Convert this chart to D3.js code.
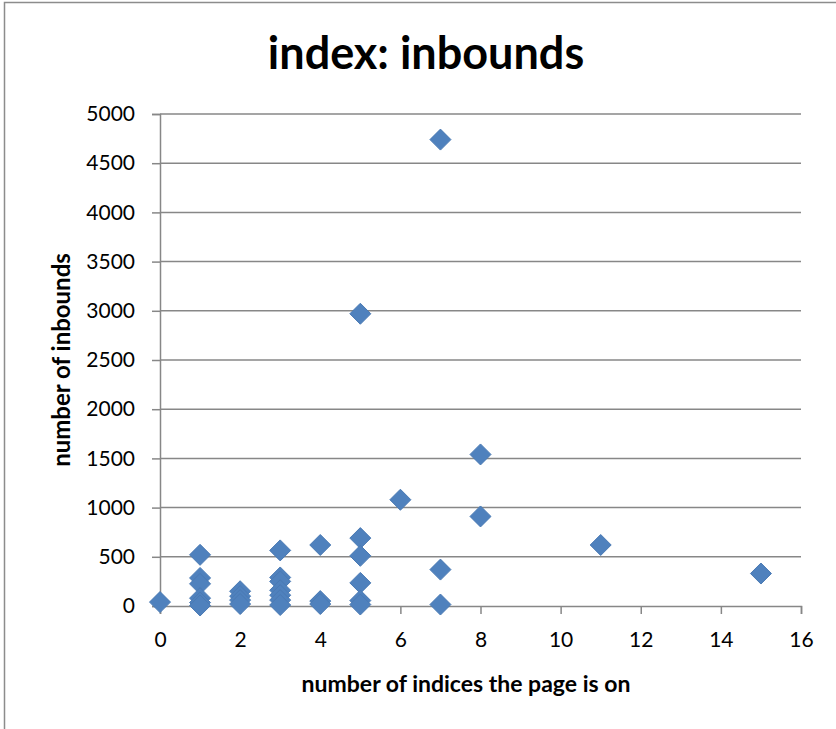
<!DOCTYPE html>
<html>
<head>
<meta charset="utf-8">
<script src="https://cdn.jsdelivr.net/npm/d3@7"></script>
<style>
  html, body { margin: 0; padding: 0; background: #fff; }
  svg { display: block; font-family: Lato, "Open Sans", sans-serif; }
</style>
</head>
<body>
<svg id="chart" width="836" height="729"></svg>
<script>
// Pages: how many indices each page is listed on, and its inbound link count
const indexCounts = [0, 1, 1, 1, 1, 1, 1, 2, 2, 2, 2, 3, 3, 3, 3, 3, 3, 3,
                     4, 4, 4, 5, 5, 5, 5, 5, 5, 6, 7, 7, 7, 8, 8, 11, 15];
const inbounds    = [40, 520, 285, 225, 80, 35, 5, 150, 100, 60, 20, 565, 290, 250, 160, 110, 60, 10,
                     620, 50, 20, 2970, 690, 510, 235, 55, 15, 1080, 4740, 370, 15, 1540, 910, 620, 330];
const xTicks = [0, 2, 4, 6, 8, 10, 12, 14, 16];
const yTicks = [0, 500, 1000, 1500, 2000, 2500, 3000, 3500, 4000, 4500, 5000];

const points = indexCounts.map((x, i) => ({ x, y: inbounds[i] }));

const svg = d3.select("#chart");
const plotLeft = 160, plotRight = 801, plotTop = 114, plotBottom = 606;
const gridColor = "#878787";

const x = d3.scaleLinear().domain([0, 16]).range([plotLeft, plotRight]);
const y = d3.scaleLinear().domain([0, 5000]).range([plotBottom, plotTop]);

// outer chart frame
svg.append("rect")
  .attr("x", 4.5).attr("y", 2.5)
  .attr("width", 900).attr("height", 900)
  .attr("fill", "none").attr("stroke", "#8c8c8c").attr("stroke-width", 1.5);

// title
svg.append("text")
  .attr("x", 426).attr("y", 69)
  .attr("text-anchor", "middle")
  .attr("font-size", 45).attr("font-weight", "bold")
  .text("index: inbounds");

// horizontal gridlines
svg.append("g")
  .selectAll("line")
  .data(yTicks.filter(d => d > 0))
  .join("line")
  .attr("x1", plotLeft).attr("x2", plotRight)
  .attr("y1", d => y(d)).attr("y2", d => y(d))
  .attr("stroke", gridColor).attr("stroke-width", 1.5);

// y axis
const yAxis = svg.append("g")
  .attr("transform", `translate(${plotLeft},0)`)
  .call(d3.axisLeft(y).tickValues(yTicks).tickSize(8).tickPadding(17).tickFormat(d3.format("d")));
yAxis.select(".domain").attr("stroke", gridColor).attr("stroke-width", 1.5);
yAxis.selectAll(".tick line").attr("stroke", gridColor).attr("stroke-width", 1.5);
yAxis.selectAll(".tick text").attr("font-size", 21).attr("fill", "#000")
  .attr("font-family", "Lato, sans-serif");

// x axis
const xAxis = svg.append("g")
  .attr("transform", `translate(0,${plotBottom})`)
  .call(d3.axisBottom(x).tickValues(xTicks).tickSize(8).tickPadding(18).tickFormat(d3.format("d")));
xAxis.select(".domain").attr("stroke", gridColor).attr("stroke-width", 1.5);
xAxis.selectAll(".tick line").attr("stroke", gridColor).attr("stroke-width", 1.5);
xAxis.selectAll(".tick text").attr("font-size", 21).attr("fill", "#000")
  .attr("font-family", "Lato, sans-serif");

// axis titles
svg.append("text")
  .attr("x", 466).attr("y", 692)
  .attr("text-anchor", "middle")
  .attr("font-size", 23).attr("font-weight", "bold")
  .text("number of indices the page is on");

svg.append("text")
  .attr("transform", "translate(70,360) rotate(-90)")
  .attr("text-anchor", "middle")
  .attr("font-size", 24).attr("font-weight", "bold")
  .text("number of inbounds");

// diamond markers
const diamond = "M0,-10.5L10.5,0L0,10.5L-10.5,0Z";
svg.append("g")
  .selectAll("path")
  .data(points)
  .join("path")
  .attr("d", diamond)
  .attr("transform", d => `translate(${x(d.x)},${y(d.y)})`)
  .attr("fill", "#4f81bd")
  .attr("stroke", "#4a7ab4").attr("stroke-width", 1);
</script>
</body>
</html>
